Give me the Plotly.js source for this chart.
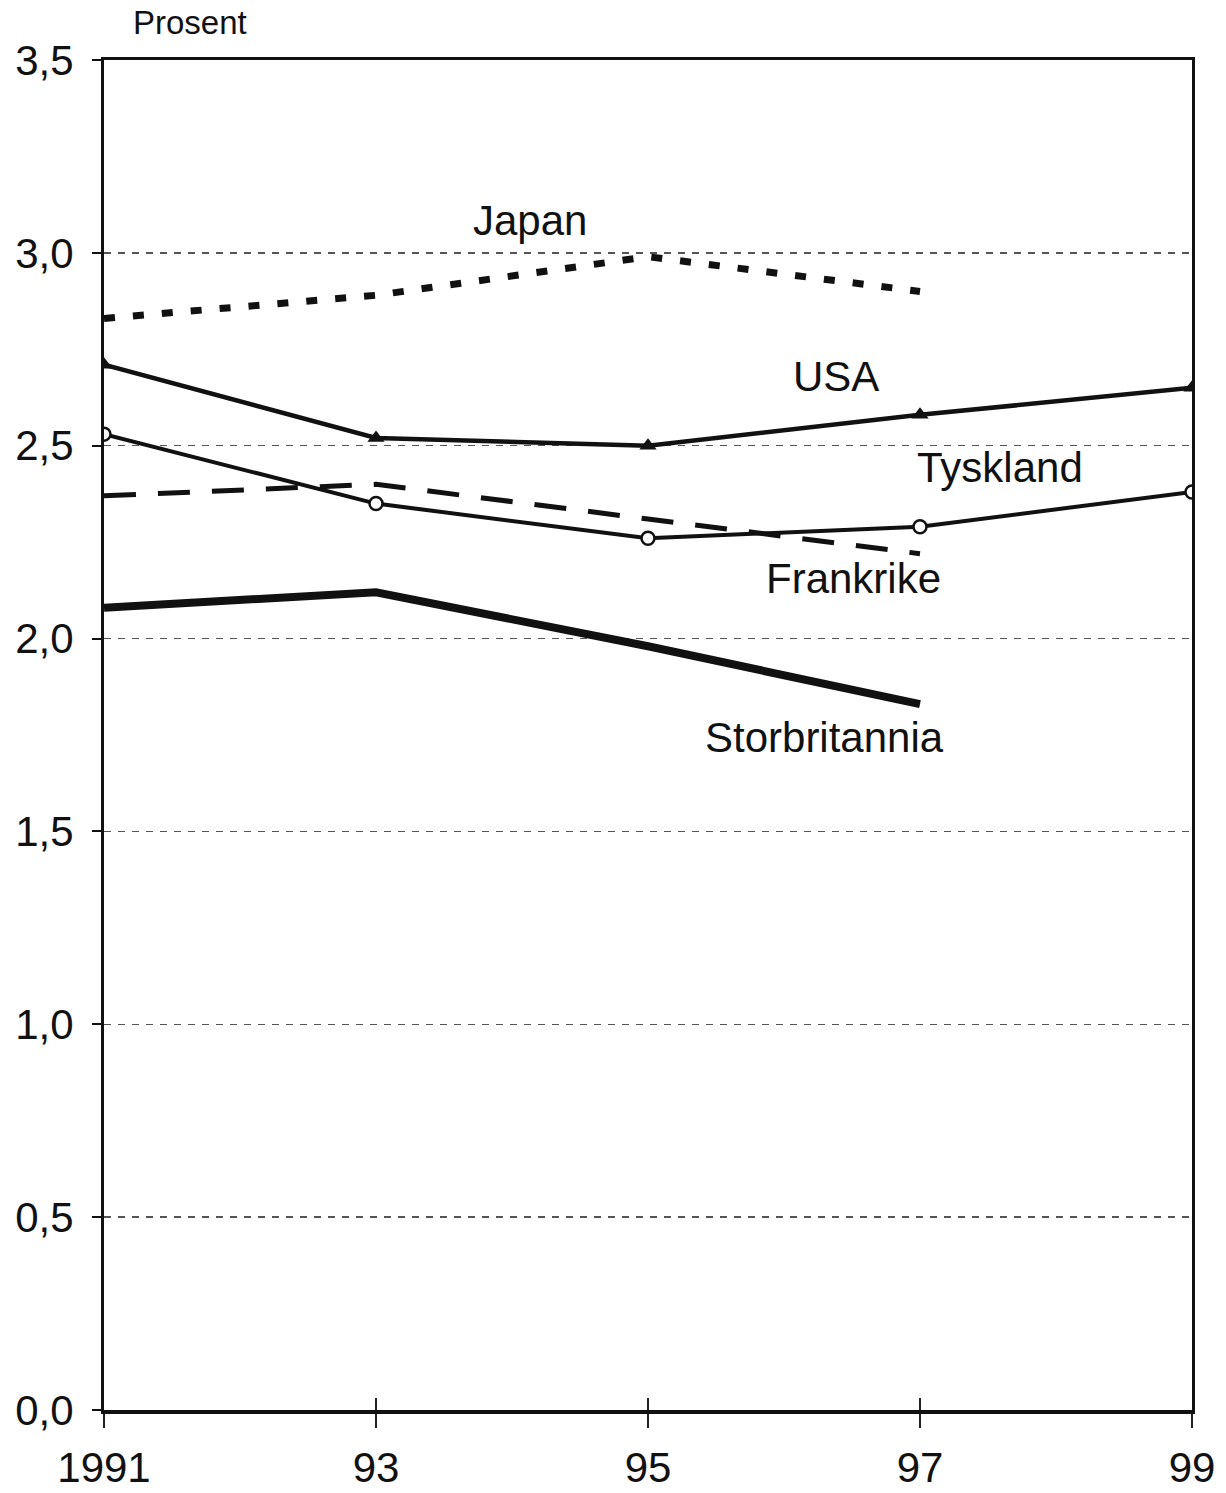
<!DOCTYPE html>
<html><head><meta charset="utf-8">
<script src="https://cdn.plot.ly/plotly-3.0.1.min.js"></script>
<style>html,body{margin:0;padding:0;background:#fff}#chart{width:1226px;height:1493px}</style>
</head><body><div id="chart"></div>
<script>
const years = [1991, 1993, 1995, 1997, 1999];
const tickText = ['1991', '93', '95', '97', '99'];
const japan = [2.83, 2.89, 2.99, 2.90];
const usa = [2.71, 2.52, 2.50, 2.58, 2.65];
const tyskland = [2.53, 2.35, 2.26, 2.29, 2.38];
const frankrike = [2.37, 2.40, 2.31, 2.22];
const storbritannia = [2.08, 2.12, 1.98, 1.83];
const yTicks = [0, 0.5, 1, 1.5, 2, 2.5, 3, 3.5];

const F = 'Liberation Sans, Arial, sans-serif';
const traces = [
  {x: years.slice(0, japan.length), y: japan, mode: 'lines', line: {color: '#111', width: 7, dash: '11px,18px'}},
  {x: years, y: usa, mode: 'lines+markers', line: {color: '#111', width: 4.5}, marker: {symbol: 'triangle-up', size: 15, color: '#111'}},
  {x: years, y: tyskland, mode: 'lines+markers', line: {color: '#111', width: 4}, marker: {symbol: 'circle', size: 13, color: '#fff', line: {color: '#111', width: 2.5}}},
  {x: years.slice(0, frankrike.length), y: frankrike, mode: 'lines', line: {color: '#111', width: 5, dash: '32px,22px'}},
  {x: years.slice(0, storbritannia.length), y: storbritannia, mode: 'lines', line: {color: '#111', width: 8}},
  {x: years, y: years.map(() => null), xaxis: 'x2', yaxis: 'y', mode: 'lines', hoverinfo: 'skip'}
];

const ann = (text, x, y) => ({text, x, y, xref: 'x', yref: 'y', xanchor: 'center', yanchor: 'middle', showarrow: false, font: {family: F, size: 42, color: '#111'}});
const layout = {
  width: 1226, height: 1493,
  margin: {l: 104, r: 34, t: 60, b: 83},
  paper_bgcolor: '#fff', plot_bgcolor: '#fff',
  showlegend: false,
  separators: ',.',
  font: {family: F, color: '#111'},
  xaxis: {
    range: [1991, 1999], tickvals: years, ticktext: tickText,
    ticks: 'outside', ticklen: 14, tickwidth: 1.5, tickcolor: '#222',
    ticklabelstandoff: 4,
    showgrid: false, zeroline: false,
    showline: true, linecolor: '#111', linewidth: 3.5, mirror: true,
    tickfont: {family: F, size: 42, color: '#111'}
  },
  xaxis2: {
    overlaying: 'x', matches: 'x', range: [1991, 1999], tickvals: years,
    ticks: 'inside', ticklen: 12, tickwidth: 1.5, tickcolor: '#222',
    showticklabels: false, showgrid: false, zeroline: false, showline: false
  },
  yaxis: {
    range: [0, 3.5], tickvals: yTicks, tickformat: '.1f',
    ticks: 'outside', ticklen: 9, tickwidth: 2, tickcolor: '#111',
    ticklabelstandoff: 10,
    showgrid: true, gridcolor: '#555', gridwidth: 1.5, griddash: '7px,7px',
    zeroline: false,
    showline: true, linecolor: '#111', linewidth: 3, mirror: true,
    tickfont: {family: F, size: 42, color: '#111'}
  },
  annotations: [
    {text: 'Prosent', x: 0.079, y: 1.028, xref: 'paper', yref: 'paper', xanchor: 'center', yanchor: 'middle', showarrow: false, font: {family: F, size: 33, color: '#111'}},
    ann('Japan', 1994.13, 3.083),
    ann('USA', 1996.38, 2.679),
    ann('Tyskland', 1997.59, 2.443),
    ann('Frankrike', 1996.51, 2.155),
    ann('Storbritannia', 1996.30, 1.744)
  ]
};
Plotly.newPlot('chart', traces, layout, {staticPlot: true});
</script>
</body></html>
